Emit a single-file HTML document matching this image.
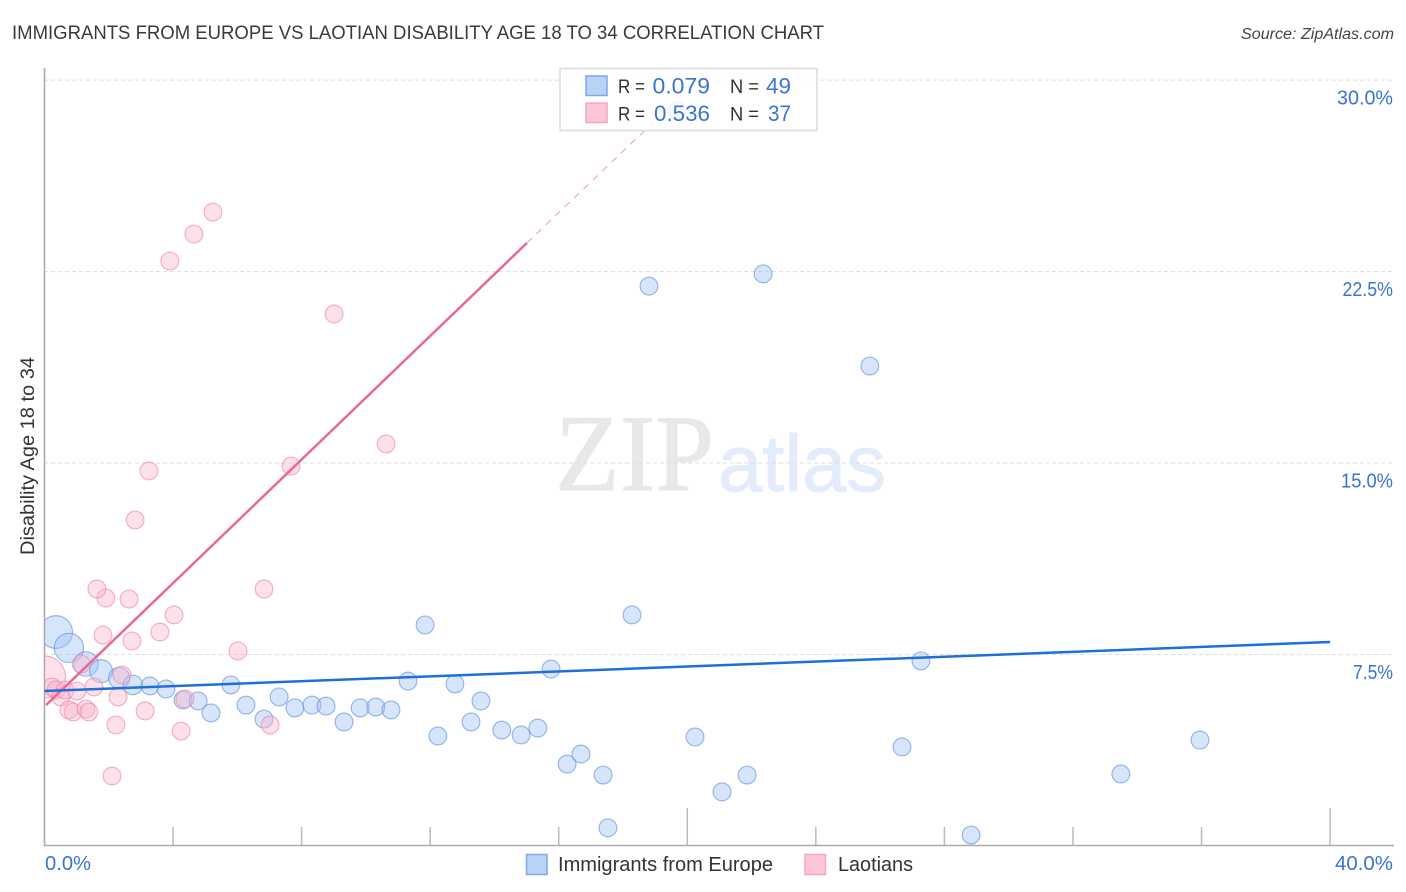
<!DOCTYPE html>
<html lang="en">
<head>
<meta charset="utf-8">
<title>Immigrants from Europe vs Laotian Disability Age 18 to 34 Correlation Chart</title>
<style>
html,body{margin:0;padding:0;background:#fff;width:1406px;height:892px;overflow:hidden}
svg{display:block;font-family:"Liberation Sans",sans-serif}
</style>
</head>
<body>
<svg id="chart" xmlns="http://www.w3.org/2000/svg" width="1406" height="892" viewBox="0 0 1406 892">
  <defs>
    <clipPath id="plot-clip"><rect x="45" y="60" width="1349" height="785"/></clipPath>
  </defs>
  <rect x="0" y="0" width="1406" height="892" fill="#fff"/>
  <text x="12" y="39" font-size="19.5" fill="#3a3a3a" textLength="812" lengthAdjust="spacingAndGlyphs">IMMIGRANTS FROM EUROPE VS LAOTIAN DISABILITY AGE 18 TO 34 CORRELATION CHART</text>
  <text x="1241" y="39" font-size="15.5" font-style="italic" fill="#444" textLength="153" lengthAdjust="spacingAndGlyphs">Source: ZipAtlas.com</text>
  <text x="555" y="490" font-family="'Liberation Serif',serif" font-size="109" fill="#e8e8e8" stroke="#e8e8e8" stroke-width="1" textLength="159" lengthAdjust="spacingAndGlyphs">ZIP</text>
  <text x="718" y="491" font-size="80" fill="#e3ecfb" stroke="#e3ecfb" stroke-width="1" textLength="168" lengthAdjust="spacingAndGlyphs">atlas</text>
  <g id="grid"></g>
  <g id="x-ticks"></g>
  <line x1="44.5" y1="68" x2="44.5" y2="846" stroke="#aaa" stroke-width="1.6"/>
  <line x1="44" y1="845.5" x2="1394" y2="845.5" stroke="#aaa" stroke-width="1.6"/>
  <g id="points" clip-path="url(#plot-clip)"></g>
  <g id="trends"></g>
  <g id="y-labels"></g>
  <g id="x-labels"></g>
  <text transform="translate(34,555) rotate(-90)" font-size="19" fill="#333" textLength="198" lengthAdjust="spacingAndGlyphs">Disability Age 18 to 34</text>

  <g>
    <rect x="560" y="68.5" width="257" height="62" fill="#fff" fill-opacity="0.82" stroke="#ddd" stroke-width="1.6"/>
    <rect x="586" y="76" width="21" height="19.5" fill="#b9d3f7" stroke="#7fa9e3" stroke-width="1.5"/>
    <rect x="586" y="103" width="21" height="19.5" fill="#fdc6d8" stroke="#f4a6bf" stroke-width="1.5"/>
    <text x="618" y="93" font-size="19.5" fill="#333" textLength="27" lengthAdjust="spacingAndGlyphs">R =</text>
    <text x="652.5" y="93.5" font-size="22" fill="#3b73d1" textLength="57.5" lengthAdjust="spacingAndGlyphs">0.079</text>
    <text x="730" y="93" font-size="19.5" fill="#333" textLength="29" lengthAdjust="spacingAndGlyphs">N =</text>
    <text x="766" y="93.5" font-size="22" fill="#3b73d1" textLength="25" lengthAdjust="spacingAndGlyphs">49</text>
    <text x="618" y="120.5" font-size="19.5" fill="#333" textLength="27" lengthAdjust="spacingAndGlyphs">R =</text>
    <text x="654" y="121" font-size="22" fill="#3b73d1" textLength="56" lengthAdjust="spacingAndGlyphs">0.536</text>
    <text x="730" y="120.5" font-size="19.5" fill="#333" textLength="29" lengthAdjust="spacingAndGlyphs">N =</text>
    <text x="768" y="121" font-size="22" fill="#3b73d1" textLength="23" lengthAdjust="spacingAndGlyphs">37</text>
  </g>

  <g>
    <rect x="526.5" y="854.5" width="20.5" height="20" fill="#b9d3f7" stroke="#7fa9e3" stroke-width="1.5"/>
    <text x="558" y="871" font-size="20" fill="#333" textLength="215" lengthAdjust="spacingAndGlyphs">Immigrants from Europe</text>
    <rect x="805" y="854.5" width="20.5" height="20" fill="#fdc6d8" stroke="#f4a6bf" stroke-width="1.5"/>
    <text x="838" y="871" font-size="20" fill="#333" textLength="75" lengthAdjust="spacingAndGlyphs">Laotians</text>
  </g>
</svg>
<script>
const yTickValues = [7.5, 15, 22.5, 30];
const yTickLabels = ["7.5%", "15.0%", "22.5%", "30.0%"];
const xTickValues = [4, 8, 12, 16, 20, 24, 28, 32, 36, 40];
const xMajorTicks = [20, 40];
const xEdgeValues = [0, 40];
const xEdgeLabels = ["0.0%", "40.0%"];

const europeX = [0.36,0.76,1.29,1.76,2.32,2.75,3.28,3.78,4.31,4.78,5.18,5.80,6.27,6.83,7.30,7.79,8.32,8.76,9.32,9.82,10.31,10.78,11.31,11.84,12.24,12.77,13.27,13.58,14.23,14.83,15.35,15.76,16.26,16.69,17.38,17.53,18.28,18.81,19.68,20.24,21.08,21.86,22.36,25.68,26.68,27.27,28.83,33.49,35.95];
const europeY = [8.38,7.76,7.13,6.85,6.58,6.31,6.27,6.15,5.72,5.68,5.21,6.31,5.52,4.97,5.84,5.41,5.52,5.48,4.86,5.41,5.44,5.33,6.46,8.66,4.31,6.35,4.86,5.68,4.54,4.35,4.62,6.93,3.21,3.60,2.78,0.71,9.05,21.93,28.79,4.27,2.12,2.78,22.41,18.80,3.88,7.25,0.43,2.82,4.15];
const europeWeight = [3.4,2.7,1.9,1.65,1.4,1.2,1,1,1,1,1,1,1,1,1,1,1,1,1,1,1,1,1,1,1,1,1,1,1,1,1,1,1,1,1,1,1,1,1,1,1,1,1,1,1,1,1,1,1];

const laotianX = [0.00,0.23,0.36,0.51,0.64,0.76,0.89,1.01,1.29,1.38,1.54,1.14,1.82,1.91,1.63,2.63,2.72,2.29,2.41,2.22,2.10,3.13,4.25,4.37,3.59,4.03,6.02,6.83,7.02,2.82,3.25,3.90,4.65,5.24,7.67,9.01,10.63];
const laotianY = [6.62,6.23,6.11,5.84,6.11,5.33,5.25,6.07,5.37,5.25,6.23,7.13,8.26,9.71,10.07,9.67,8.03,5.84,6.70,4.74,2.74,5.29,4.50,5.76,8.38,9.05,7.64,10.07,4.74,12.77,14.69,22.91,23.97,24.83,14.88,20.84,15.75];
const laotianWeight = [5.6,1,1,1,1,1,1,1,1,1,1,1,1,1,1,1,1,1,1,1,1,1,1,1,1,1,1,1,1,1,1,1,1,1,1,1,1];

const europeTrendX = [0, 40];
const europeTrendY = [6.07, 7.99];
const laotianTrendSolidX = [0.05, 15.01];
const laotianTrendSolidY = [5.52, 23.62];
const laotianTrendDashX = [15.01, 19.77];
const laotianTrendDashY = [23.62, 29.34];

const NS = "http://www.w3.org/2000/svg";
const sx = v => 44.5 + v * 32.14;
const sy = v => 846 - v * 25.53;
const baseRadius = 8.9;
const glyphWidth = {"0":12.75,"1":8.75,"2":10,"3":10,"4":12,"5":10,"7":9.5,".":4.5,"%":16};
const labelWidth = s => s.split("").reduce((a, c) => a + (glyphWidth[c] || 10), 0);

function make(tag, attrs, parent) {
  const el = document.createElementNS(NS, tag);
  for (const k in attrs) el.setAttribute(k, attrs[k]);
  parent.appendChild(el);
  return el;
}

const grid = document.getElementById("grid");
const yLabels = document.getElementById("y-labels");
yTickValues.forEach((v, i) => {
  const line = make("line", {x1: 44, x2: 1394, y1: sy(v), y2: sy(v), stroke: "#dcdcdc", "stroke-width": 1, "stroke-dasharray": "4 3"}, grid);
  
  
  const w = labelWidth(yTickLabels[i]);
  const label = make("text", {x: 1393 - w, y: sy(v) + 24.5, "font-size": 20, fill: "#3b73d1", textLength: w, lengthAdjust: "spacingAndGlyphs"}, yLabels);
  
  
  label.textContent = yTickLabels[i];
});

const xTicks = document.getElementById("x-ticks");
xTickValues.forEach(v => {
  const top = xMajorTicks.includes(v) ? 808 : 827;
  const tick = make("line", {x1: sx(v), x2: sx(v), y1: top, y2: 845, stroke: "#bbb", "stroke-width": 1.5}, xTicks);
  
  
});

const xLabels = document.getElementById("x-labels");
xEdgeValues.forEach((v, i) => {
  const w = labelWidth(xEdgeLabels[i]);
  const label = make("text", {x: i === 0 ? sx(v) + 0.5 : 1393 - w, y: 870, "font-size": 20, fill: "#3b73d1", textLength: w, lengthAdjust: "spacingAndGlyphs"}, xLabels);
  
  
  label.textContent = xEdgeLabels[i];
});

const points = document.getElementById("points");
europeX.forEach((v, i) => {
  const dot = make("circle", {cx: sx(v), cy: sy(europeY[i]), r: baseRadius * Math.sqrt(europeWeight[i]), fill: "#9fc2f3", "fill-opacity": 0.42, stroke: "#5c8fdf", "stroke-opacity": 0.65, "stroke-width": 1.1}, points);
  
  
});
laotianX.forEach((v, i) => {
  const dot = make("circle", {cx: sx(v), cy: sy(laotianY[i]), r: baseRadius * Math.sqrt(laotianWeight[i]), fill: "#fbb4ca", "fill-opacity": 0.42, stroke: "#ec86a8", "stroke-opacity": 0.65, "stroke-width": 1.1}, points);
  
  
});

const trends = document.getElementById("trends");
const dashLine = make("line", {x1: sx(laotianTrendDashX[0]), y1: sy(laotianTrendDashY[0]), x2: sx(laotianTrendDashX[1]), y2: sy(laotianTrendDashY[1]), stroke: "#ee8fb0", "stroke-width": 0.9, "stroke-dasharray": "7 6"}, trends);


const pinkLine = make("line", {x1: sx(laotianTrendSolidX[0]), y1: sy(laotianTrendSolidY[0]), x2: sx(laotianTrendSolidX[1]), y2: sy(laotianTrendSolidY[1]), stroke: "#e9689a", "stroke-width": 2.5}, trends);


const blueLine = make("line", {x1: sx(europeTrendX[0]), y1: sy(europeTrendY[0]), x2: sx(europeTrendX[1]), y2: sy(europeTrendY[1]), stroke: "#1f6fd8", "stroke-width": 2.5}, trends);


</script>
</body>
</html>
